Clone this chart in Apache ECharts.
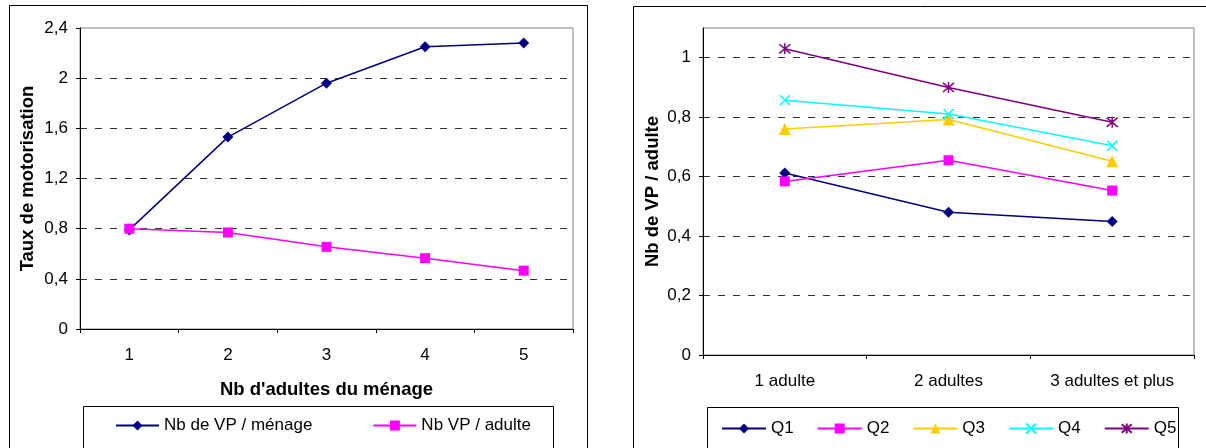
<!DOCTYPE html>
<html>
<head>
<meta charset="utf-8">
<script src="https://cdn.jsdelivr.net/npm/echarts@6/dist/echarts.min.js"></script>
<style>
html,body{margin:0;padding:0;background:#fff;}
#chart{width:1206px;height:448px;}
</style>
</head>
<body>
<div id="chart"></div>
<script>
// ---- Data ----
var leftCategories = ['1', '2', '3', '4', '5'];
var vpParMenage = [0.79, 1.53, 1.96, 2.25, 2.28];
var vpParAdulte = [0.80, 0.77, 0.655, 0.565, 0.465];

var rightCategories = ['1 adulte', '2 adultes', '3 adultes et plus'];
var q1 = [0.612, 0.480, 0.449];
var q2 = [0.584, 0.655, 0.553];
var q3 = [0.760, 0.792, 0.652];
var q4 = [0.857, 0.811, 0.704];
var q5 = [1.030, 0.900, 0.783];

var leftSeriesNames = ['Nb de VP / ménage', 'Nb VP / adulte'];
var rightSeriesNames = ['Q1', 'Q2', 'Q3', 'Q4', 'Q5'];

// ---- Chart ----
var FONT = "'Liberation Sans', Arial, sans-serif";
var chart = echarts.init(document.getElementById('chart'), null, {renderer: 'canvas'});

function comma(v) { return String(v).replace('.', ','); }

var SYM_X = 'path://M0,0L10,10M10,0L0,10';
var SYM_STAR = 'path://M0,0L10,10M10,0L0,10M5,-1L5,11';

function catAxis(gridIndex, data, name, nameGap) {
  return {
    type: 'category', gridIndex: gridIndex, data: data, boundaryGap: true,
    name: name, nameLocation: 'middle', nameGap: nameGap,
    nameTextStyle: {fontFamily: FONT, fontSize: 18.5, fontWeight: 'bold', color: '#000'},
    axisLine: {lineStyle: {color: '#000', width: 1}},
    axisTick: {show: true, length: 4, lineStyle: {color: '#000'}},
    axisLabel: {fontFamily: FONT, fontSize: 17, color: '#000', margin: 18},
    splitLine: {show: false}
  };
}
function valAxis(gridIndex, max, interval, name, nameGap, margin) {
  return {
    type: 'value', gridIndex: gridIndex, min: 0, max: max, interval: interval,
    name: name, nameLocation: 'middle', nameGap: nameGap, nameRotate: 90,
    nameTextStyle: {fontFamily: FONT, fontSize: 18.5, fontWeight: 'bold', color: '#000'},
    axisLine: {show: true, lineStyle: {color: '#000', width: 1}},
    axisTick: {show: true, length: 4, lineStyle: {color: '#000'}},
    axisLabel: {fontFamily: FONT, fontSize: 17, color: '#000', margin: margin,
      showMaxLabel: max === 2.4, formatter: comma},
    splitLine: {show: true, showMinLine: false, showMaxLine: false,
      lineStyle: {color: '#333', width: 1, type: [7, 8]}}
  };
}
function lineSeries(name, data, xi, yi, color, symbol, size, stroke) {
  return {
    type: 'line', name: name, data: data, xAxisIndex: xi, yAxisIndex: yi,
    symbol: symbol, symbolSize: size, showAllSymbol: true,
    lineStyle: {color: color, width: 1.5},
    itemStyle: {color: color, borderColor: color, borderWidth: stroke ? 1.5 : 0},
    emphasis: {disabled: true},
    animation: false, z: 3
  };
}

var option = {
  animation: false,
  backgroundColor: '#fff',
  textStyle: {fontFamily: FONT},
  grid: [
    {left: 80, top: 28, width: 493, height: 301, show: true, borderColor: '#808080', borderWidth: 1, backgroundColor: '#fff'},
    {left: 703, top: 28, width: 491, height: 327, show: true, borderColor: '#808080', borderWidth: 1, backgroundColor: '#fff'}
  ],
  xAxis: [
    catAxis(0, leftCategories, "Nb d'adultes du ménage", 51),
    catAxis(1, rightCategories, '', 0)
  ],
  yAxis: [
    valAxis(0, 2.4, 0.4, 'Taux de motorisation', 43, 12),
    valAxis(1, 1.1, 0.2, 'Nb de VP / adulte', 41, 12)
  ],
  legend: [
    {
      data: leftSeriesNames, left: 115, top: 417, padding: 0,
      itemWidth: 43, itemHeight: 12.5, itemGap: 60,
      textStyle: {fontFamily: FONT, fontSize: 17, color: '#000'}
    },
    {
      data: rightSeriesNames, left: 721, top: 420, padding: 0,
      itemWidth: 44, itemHeight: 12.5, itemGap: 23,
      textStyle: {fontFamily: FONT, fontSize: 17, color: '#000'}
    }
  ],
  graphic: [
    {type: 'rect', z: 100, shape: {x: 9.5, y: 5.5, width: 578, height: 500}, style: {fill: 'none', stroke: '#000', lineWidth: 1}},
    {type: 'rect', z: 100, shape: {x: 633.5, y: 6.5, width: 600, height: 500}, style: {fill: 'none', stroke: '#000', lineWidth: 1}},
    {type: 'rect', z: 100, shape: {x: 83.5, y: 406.5, width: 470, height: 60}, style: {fill: 'none', stroke: '#000', lineWidth: 1}},
    {type: 'rect', z: 100, shape: {x: 707.5, y: 407.5, width: 471, height: 60}, style: {fill: 'none', stroke: '#000', lineWidth: 1}}
  ],
  series: [
    lineSeries(leftSeriesNames[0], vpParMenage, 0, 0, '#000080', 'diamond', 11, false),
    lineSeries(leftSeriesNames[1], vpParAdulte, 0, 0, '#FF00FF', 'rect', 10, false),
    lineSeries('Q1', q1, 1, 1, '#000080', 'diamond', 11, false),
    lineSeries('Q2', q2, 1, 1, '#FF00FF', 'rect', 10, false),
    lineSeries('Q3', q3, 1, 1, '#FFCC00', 'triangle', 12, false),
    lineSeries('Q4', q4, 1, 1, '#00FFFF', SYM_X, 10, true),
    lineSeries('Q5', q5, 1, 1, '#800080', SYM_STAR, 11, true)
  ]
};
chart.setOption(option);
</script>
</body>
</html>
